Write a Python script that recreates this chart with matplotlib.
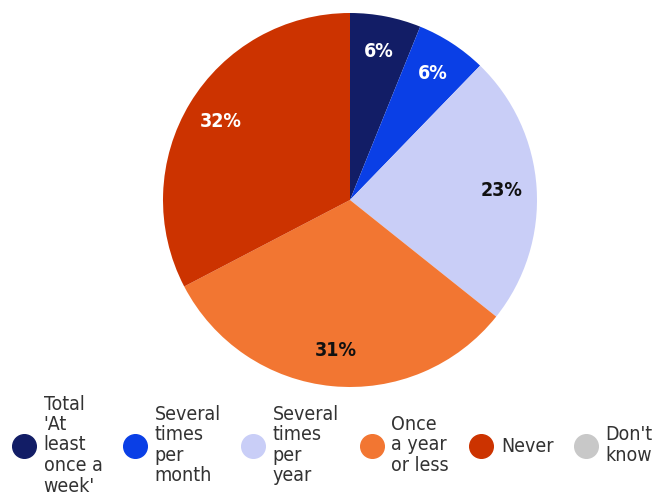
import matplotlib as mpl
mpl.use('Agg')
import matplotlib.pyplot as plt
from matplotlib.lines import Line2D
from matplotlib import font_manager

categories = ["Total\n'At\nleast\nonce a\nweek'", "Several\ntimes\nper\nmonth",
              "Several\ntimes\nper\nyear", "Once\na year\nor less", "Never",
              "Don't\nknow"]
values = [6, 6, 23, 31, 32, 0]
colors = ['#121d66', '#0a3fe6', '#c9cef7', '#f27632', '#cc3300', '#c8c8c8']
label_colors = ['white', 'white', '#111111', '#111111', 'white', 'white']

plt.rcParams['font.family'] = ['Liberation Sans', 'DejaVu Sans']

total = sum(values)

fig = plt.figure(figsize=(6.57, 5.01), dpi=100)
# pie centred at (350, 200) px, radius ~187 px
ax = fig.add_axes([(350 - 187) / 657, (501 - 200 - 187) / 501, 374 / 657, 374 / 501])


def fmt(p):
    v = p * total / 100.0
    return '%d%%' % round(v) if v > 0.5 else ''


wedges, texts, autotexts = ax.pie(values, colors=colors, startangle=90,
                                  counterclock=False, autopct=fmt,
                                  pctdistance=0.81,
                                  wedgeprops=dict(linewidth=0))
bold_narrow = font_manager.FontProperties(family='DejaVu Sans', stretch='condensed',
                                          weight='bold', size=14)
for t, c in zip(autotexts, label_colors):
    t.set_color(c)
    t.set_fontproperties(bold_narrow)
ax.set_xlim(-1, 1)
ax.set_ylim(-1, 1)
ax.set_aspect('equal')

narrow = font_manager.FontProperties(family='DejaVu Sans', stretch='condensed', size=14)
handles = [Line2D([], [], marker='o', linestyle='none', markersize=17,
                  markerfacecolor=c, markeredgecolor=c) for c in colors]
leg = fig.legend(handles, categories, loc='center',
                 bbox_to_anchor=(0.5 + 5 / 657, (501 - 445) / 501),
                 ncol=6, frameon=False, prop=narrow, handlelength=1.0,
                 handletextpad=0.5, columnspacing=1.18, labelspacing=0)
for t in leg.get_texts():
    t.set_color('#333333')
    t.set_linespacing(1.1)

fig.savefig('out.png', dpi=100)
plt.close()
